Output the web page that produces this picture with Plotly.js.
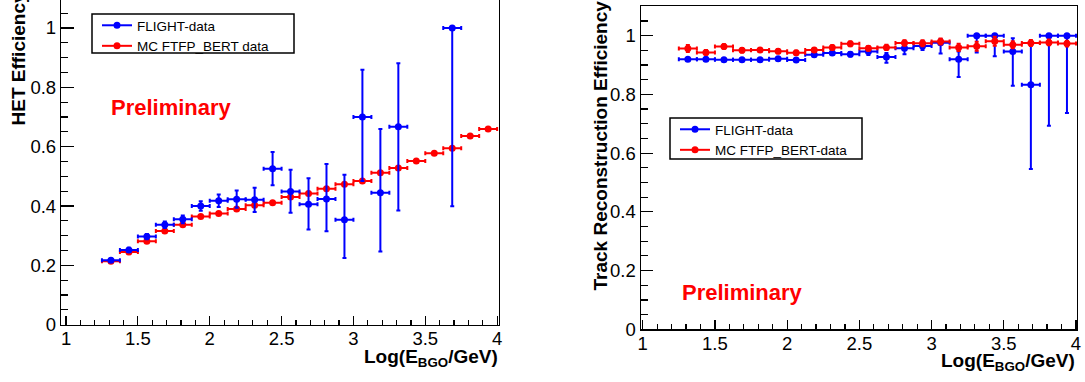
<!DOCTYPE html>
<html><head><meta charset="utf-8">
<script src="https://cdn.plot.ly/plotly-3.0.1.min.js"></script>
<style>html,body{margin:0;padding:0;background:#fff}#chart{width:1085px;height:382px}</style>
</head><body><div id="chart"></div>
<script>
// ---- data ----
const binCenters = [1.3125,1.4375,1.5625,1.6875,1.8125,1.9375,2.0625,2.1875,2.3125,2.4375,2.5625,2.6875,2.8125,2.9375,3.0625,3.1875,3.3125,3.4375,3.5625,3.6875,3.8125,3.9375];
const binHalfWidth = 0.0625;

// Left panel: HET efficiency
const hetFlight        = [0.217,0.252,0.297,0.337,0.355,0.400,0.418,0.423,0.421,0.526,0.449,0.406,0.424,0.354,0.700,0.445,0.667,null,null,1.000,null,null];
const hetFlightErrUp   = [0.005,0.007,0.009,0.011,0.013,0.016,0.021,0.029,0.041,0.056,0.073,0.088,0.118,0.151,0.159,0.215,0.214,null,null,0.000,null,null];
const hetFlightErrDown = [0.005,0.007,0.009,0.011,0.013,0.016,0.021,0.029,0.041,0.056,0.072,0.085,0.109,0.129,0.216,0.198,0.282,null,null,0.601,null,null];
const hetMC            = [0.214,0.245,0.281,0.316,0.337,0.365,0.375,0.390,0.403,0.411,0.430,0.442,0.458,0.473,0.484,0.512,0.528,0.552,0.578,0.595,0.636,0.660];
const hetMCErr         = [0.003,0.003,0.003,0.003,0.003,0.003,0.003,0.003,0.003,0.003,0.003,0.003,0.003,0.003,0.003,0.003,0.003,0.003,0.003,0.003,0.003,0.003];

// Right panel: track reconstruction efficiency
const trkFlight        = [0.920,0.920,0.918,0.918,0.918,0.921,0.917,0.935,0.941,0.937,0.946,0.927,0.957,0.965,0.976,0.920,1.000,1.000,0.946,0.833,1.000,1.000];
const trkFlightErrUp   = [0.003,0.003,0.003,0.003,0.003,0.003,0.003,0.005,0.006,0.007,0.010,0.014,0.011,0.017,0.013,0.026,0.000,0.000,0.045,0.142,0.000,0.000];
const trkFlightErrDown = [0.003,0.003,0.003,0.003,0.003,0.003,0.003,0.005,0.006,0.008,0.012,0.019,0.020,0.014,0.037,0.061,0.057,0.070,0.117,0.287,0.307,0.263];
const trkMC            = [0.956,0.943,0.963,0.950,0.951,0.947,0.942,0.951,0.960,0.972,0.957,0.960,0.975,0.974,0.980,0.960,0.964,0.981,0.969,0.975,0.977,0.973];
const trkMCErr         = [0.012,0.008,0.008,0.007,0.007,0.007,0.007,0.007,0.007,0.008,0.008,0.009,0.009,0.010,0.010,0.012,0.015,0.015,0.012,0.010,0.010,0.010];

const xTitle = 'Log(E<sub>BGO</sub>/GeV)';
const yTitleLeft = 'HET Efficiency';
const yTitleRight = 'Track Reconstruction Efficiency';
const labelFlight = 'FLIGHT-data';
const labelMCLeft = 'MC FTFP_BERT data';
const labelMCRight = 'MC FTFP_BERT-data';
const prelim = 'Preliminary';

// ---- styling ----
const W = 1085, H = 382;
const FONT = 'Liberation Sans, Arial, Helvetica, sans-serif';
const BLUE = '#0000ff', RED = '#ff0000';
const px = x => x / W;
const py = y => 1 - y / H;

function pointsTrace(y, up, down, color, xa, ya) {
  return {
    type: 'scatter', mode: 'markers', x: binCenters, y: y,
    xaxis: xa, yaxis: ya, showlegend: false, hoverinfo: 'x+y',
    marker: {color: color, size: 7},
    error_x: {type: 'constant', value: binHalfWidth, color: color, thickness: 2, width: 2},
    error_y: {type: 'data', symmetric: false, array: up, arrayminus: down, color: color, thickness: 2, width: 2}
  };
}
function legendTrace(name, color, xa, ya, leg) {
  return {
    type: 'scatter', mode: 'lines+markers', x: [null], y: [null], name: name,
    xaxis: xa, yaxis: ya, legend: leg, showlegend: true,
    line: {color: color, width: 2}, marker: {color: color, size: 7}
  };
}

const traces = [
  pointsTrace(hetMC, hetMCErr, hetMCErr, RED, 'x', 'y'),
  pointsTrace(hetFlight, hetFlightErrUp, hetFlightErrDown, BLUE, 'x', 'y'),
  pointsTrace(trkFlight, trkFlightErrUp, trkFlightErrDown, BLUE, 'x2', 'y2'),
  pointsTrace(trkMC, trkMCErr, trkMCErr, RED, 'x2', 'y2'),
  legendTrace(labelFlight, BLUE, 'x', 'y', 'legend'),
  legendTrace(labelMCLeft, RED, 'x', 'y', 'legend'),
  legendTrace(labelFlight, BLUE, 'x2', 'y2', 'legend2'),
  legendTrace(labelMCRight, RED, 'x2', 'y2', 'legend2')
];

const tickFont = {family: FONT, size: 18.5, color: '#000'};
function xAxis(domain, range, anchor, mirror) {
  return {
    domain: domain, range: range, anchor: anchor, mirror: mirror,
    showgrid: false, zeroline: false, showline: true, linecolor: '#000', linewidth: 1.2,
    ticks: 'inside', ticklen: 9, tickwidth: 1.2, tickcolor: '#000',
    tick0: 1, dtick: 0.5, tickfont: tickFont, ticklabelstandoff: -3,
    minor: {ticks: 'inside', ticklen: 5, tickwidth: 1.2, tickcolor: '#000', dtick: 0.1, showgrid: false}
  };
}
function yAxis(domain, range, anchor) {
  return {
    domain: domain, range: range, anchor: anchor, mirror: true,
    showgrid: false, zeroline: false, showline: true, linecolor: '#000', linewidth: 1.2,
    ticks: 'inside', ticklen: 12.5, tickwidth: 1.2, tickcolor: '#000',
    tick0: 0, dtick: 0.2, tickfont: tickFont,
    minor: {ticks: 'inside', ticklen: 7, tickwidth: 1.2, tickcolor: '#000', dtick: 0.05, showgrid: false}
  };
}

const legendCommon = {
  xanchor: 'left', yanchor: 'top', bgcolor: 'rgba(0,0,0,0)', borderwidth: 0,
  font: {family: FONT, size: 13.5, color: '#000'}, itemwidth: 30, tracegroupgap: 0
};

const titleFont = {family: FONT, size: 19, color: '#000', weight: 700};
const prelimFont = {family: FONT, size: 22, color: RED, weight: 700};

// legend frames (ROOT-style boxes)
const legendBox = (x0, y0, x1, y1) => ({
  type: 'rect', xref: 'paper', yref: 'paper', x0: px(x0), x1: px(x1), y0: py(y1), y1: py(y0),
  line: {color: '#000', width: 1.5}, fillcolor: 'rgba(255,255,255,0)', layer: 'above'
});

const layout = {
  width: W, height: H, margin: {l: 0, r: 0, t: 0, b: 0},
  paper_bgcolor: '#fff', plot_bgcolor: '#fff', showlegend: true,
  xaxis: xAxis([px(61), px(499)], [0.965, 4.013], 'y', false),
  yaxis: yAxis([py(324.7), 1], [0, 1.0944], 'x'),
  xaxis2: xAxis([px(640.7), px(1077)], [0.986, 4.007], 'y2', true),
  yaxis2: yAxis([py(329.3), py(5.7)], [0, 1.102], 'x2'),
  legend: Object.assign({x: px(97), y: py(10)}, legendCommon),
  legend2: Object.assign({x: px(675), y: py(114)}, legendCommon),
  shapes: [legendBox(92, 14, 294, 53), legendBox(670, 118, 862, 159)],
  annotations: [
    {text: xTitle, xref: 'paper', yref: 'paper', x: px(500), y: py(344), xanchor: 'right', yanchor: 'top', showarrow: false, font: titleFont},
    {text: xTitle, xref: 'paper', yref: 'paper', x: px(1077), y: py(348), xanchor: 'right', yanchor: 'top', showarrow: false, font: titleFont},
    {text: yTitleLeft, xref: 'paper', yref: 'paper', x: px(18), y: py(128), xanchor: 'center', yanchor: 'bottom', textangle: -90, showarrow: false, font: titleFont},
    {text: yTitleRight, xref: 'paper', yref: 'paper', x: px(599.5), y: py(293), xanchor: 'center', yanchor: 'bottom', textangle: -90, showarrow: false, font: titleFont},
    {text: prelim, xref: 'paper', yref: 'paper', x: px(171.5), y: py(108), xanchor: 'center', yanchor: 'middle', showarrow: false, font: prelimFont},
    {text: prelim, xref: 'paper', yref: 'paper', x: px(742), y: py(292), xanchor: 'center', yanchor: 'middle', showarrow: false, font: prelimFont}
  ]
};

Plotly.newPlot('chart', traces, layout, {displayModeBar: false, staticPlot: true});
</script>
</body></html>
